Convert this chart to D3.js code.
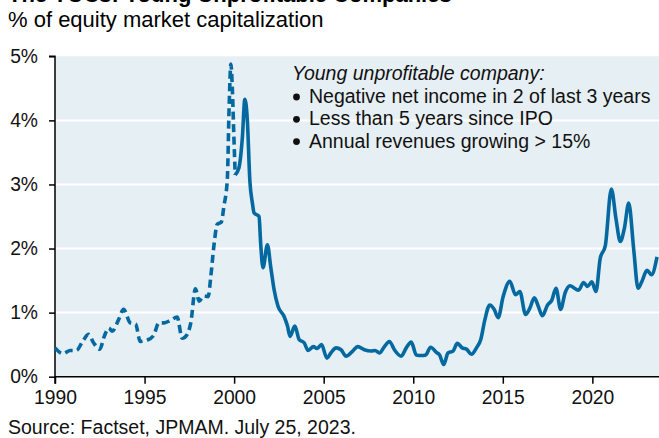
<!DOCTYPE html>
<html>
<head>
<meta charset="utf-8">
<script src="https://cdn.jsdelivr.net/npm/d3@7"></script>
<style>
  html, body { margin: 0; padding: 0; background: #fff; }
  svg { display: block; font-family: "Liberation Sans", Arial, sans-serif; }
</style>
</head>
<body>
<svg id="chart" width="659" height="438"></svg>
<script>
// pre-2000 history (dashed) and the rest (solid), % of equity market cap
const dashedYears = [1990.0, 1990.45, 1990.85, 1991.2, 1991.5, 1991.87, 1992.15, 1992.5, 1992.75, 1993.0,
  1993.2, 1993.55, 1993.83, 1994.2, 1994.5, 1994.76, 1995.13, 1995.5, 1995.8, 1996.1,
  1996.45, 1996.82, 1997.1, 1997.38, 1997.58, 1997.84, 1998.05, 1998.3, 1998.55, 1998.7,
  1998.87, 1999.06, 1999.28, 1999.43, 1999.62, 1999.72, 1999.82, 1999.9, 1999.98, 2000.06];
const dashedValues = [0.45, 0.36, 0.41, 0.41, 0.53, 0.66, 0.53, 0.43, 0.63, 0.76,
  0.71, 0.89, 1.05, 0.84, 0.82, 0.55, 0.57, 0.64, 0.84, 0.84,
  0.88, 0.93, 0.60, 0.66, 0.84, 1.37, 1.18, 1.26, 1.25, 1.57,
  2.04, 2.38, 2.41, 2.66, 3.08, 4.2, 4.88, 4.5, 3.8, 3.15];

const solidYears = [2000.06, 2000.27, 2000.46, 2000.6, 2000.74, 2000.88, 2001.02, 2001.11, 2001.39, 2001.48,
  2001.61, 2001.86, 2002.04, 2002.23, 2002.45, 2002.79, 2002.98, 2003.12, 2003.39, 2003.63,
  2003.91, 2004.13, 2004.43, 2004.62, 2004.88, 2005.18, 2005.4, 2005.69, 2005.97, 2006.25,
  2006.62, 2006.9, 2007.27, 2007.65, 2007.87, 2008.11, 2008.39, 2008.67, 2008.95, 2009.33,
  2009.61, 2009.89, 2010.17, 2010.45, 2010.7, 2010.97, 2011.29, 2011.47, 2011.7, 2011.94,
  2012.22, 2012.46, 2012.73, 2012.97, 2013.25, 2013.53, 2013.77, 2014.0, 2014.27, 2014.52,
  2014.74, 2015.02, 2015.39, 2015.71, 2015.95, 2016.27, 2016.51, 2016.76, 2016.98, 2017.21,
  2017.5, 2017.73, 2017.97, 2018.23, 2018.48, 2018.76, 2019.0, 2019.23, 2019.51, 2019.73,
  2019.97, 2020.2, 2020.44, 2020.72, 2021.06, 2021.32, 2021.56, 2021.79, 2022.03, 2022.31,
  2022.55, 2022.77, 2023.05, 2023.3, 2023.61];
const solidValues = [3.15, 3.26, 3.73, 4.33, 3.99, 3.05, 2.71, 2.56, 2.50, 2.09,
  1.70, 2.06, 1.72, 1.36, 1.10, 0.94, 0.79, 0.63, 0.79, 0.58,
  0.53, 0.41, 0.47, 0.44, 0.50, 0.29, 0.37, 0.45, 0.42, 0.32,
  0.40, 0.47, 0.42, 0.40, 0.41, 0.37, 0.47, 0.55, 0.42, 0.32,
  0.45, 0.54, 0.34, 0.33, 0.34, 0.46, 0.38, 0.34, 0.19, 0.37,
  0.40, 0.52, 0.45, 0.43, 0.35, 0.45, 0.58, 0.89, 1.12, 1.05,
  0.92, 1.25, 1.49, 1.28, 1.33, 0.97, 1.07, 1.23, 1.10, 0.95,
  1.12, 1.19, 1.38, 1.05, 1.31, 1.42, 1.38, 1.35, 1.47, 1.41,
  1.48, 1.33, 1.85, 2.04, 2.93, 2.46, 2.11, 2.32, 2.71, 1.98,
  1.38, 1.49, 1.66, 1.59, 1.87];

const xTicks = [1990, 1995, 2000, 2005, 2010, 2015, 2020];
const yTicks = [0, 1, 2, 3, 4, 5];
const noteLines = [
  'Negative net income in 2 of last 3 years',
  'Less than 5 years since IPO',
  'Annual revenues growing > 15%'
];

const lineColor = '#0469a1';

function drawChart(svg) {
  const box = { left: 55, right: 659, top: 56.3, bottom: 376.7 };

  const x = d3.scaleLinear().domain([1990, 2023.72]).range([box.left, box.right]);
  const y = d3.scaleLinear().domain([0, 5]).range([box.bottom, box.top]);

  // titles (top one is cut off by the frame, as in the original)
  svg.append('text')
    .attr('x', 8).attr('y', 2)
    .attr('font-size', 22).attr('font-weight', 'bold')
    .text('The YUCs: Young Unprofitable Companies');
  svg.append('text')
    .attr('x', 8).attr('y', 27)
    .attr('font-size', 22)
    .text('% of equity market capitalization');

  // plot background + grid
  svg.append('rect')
    .attr('x', box.left).attr('y', box.top)
    .attr('width', box.right - box.left).attr('height', box.bottom - box.top)
    .attr('fill', '#e6eff3');
  svg.append('g').selectAll('line')
    .data(yTicks.filter(t => t > 0 && t < 5))
    .join('line')
    .attr('x1', box.left).attr('x2', box.right)
    .attr('y1', d => y(d)).attr('y2', d => y(d))
    .attr('stroke', '#fff').attr('stroke-width', 2);

  // axes
  const yAxis = d3.axisLeft(y).tickValues(yTicks).tickSize(6).tickPadding(11)
    .tickFormat(d => d + '%');
  const gy = svg.append('g').attr('transform', `translate(${box.left},0)`).call(yAxis);
  const xAxis = d3.axisBottom(x).tickValues(xTicks).tickSize(7).tickPadding(7)
    .tickFormat(d3.format('d'));
  const gx = svg.append('g').attr('transform', `translate(0,${box.bottom})`).call(xAxis);

  [gy, gx].forEach(g => {
    g.attr('font-family', null).attr('font-size', null);
    g.select('.domain').attr('stroke', '#000').attr('stroke-width', 1.5);
    g.selectAll('.tick line').attr('stroke', '#000').attr('stroke-width', 1.5);
    g.selectAll('.tick text').attr('fill', '#111').attr('font-size', 19.3);
  });
  gy.select('.domain').attr('d', `M-6,${box.top}H0V${box.bottom}`);
  gx.select('.domain').attr('d', `M${box.left},7V0H${box.right}`);

  // lines
  const line = d3.line()
    .x(d => x(d[0])).y(d => y(d[1]))
    .curve(d3.curveMonotoneX);

  const dashed = dashedYears.map((yr, i) => [yr, dashedValues[i]]);
  const solid = solidYears.map((yr, i) => [yr, solidValues[i]]);

  svg.append('path')
    .attr('d', line(dashed))
    .attr('fill', 'none')
    .attr('stroke', lineColor).attr('stroke-width', 3.6)
    .attr('stroke-dasharray', '8,4.5');
  svg.append('path')
    .attr('d', line(solid))
    .attr('fill', 'none')
    .attr('stroke', lineColor).attr('stroke-width', 3.6)
    .attr('stroke-linejoin', 'round');

  // definition note
  const note = svg.append('g').attr('font-size', 19.5).attr('fill', '#111');
  note.append('text')
    .attr('x', 292).attr('y', 80)
    .attr('font-style', 'italic')
    .text('Young unprofitable company:');
  noteLines.forEach((t, i) => {
    const ty = 103 + i * 22.3;
    note.append('circle')
      .attr('cx', 296.5).attr('cy', ty - 6)
      .attr('r', 3.4).attr('fill', '#111');
    note.append('text')
      .attr('x', 309).attr('y', ty)
      .text(t);
  });

  // source
  svg.append('text')
    .attr('x', 8).attr('y', 434)
    .attr('font-size', 19.5).attr('fill', '#111')
    .text('Source: Factset, JPMAM. July 25, 2023.');
}

drawChart(d3.select('#chart'));
</script>
</body>
</html>
